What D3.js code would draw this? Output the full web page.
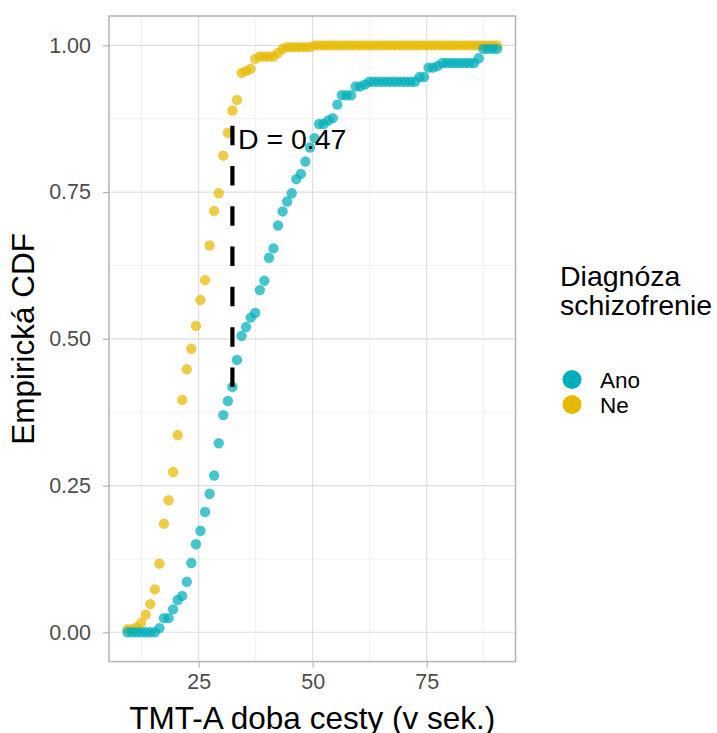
<!DOCTYPE html>
<html>
<head>
<meta charset="utf-8">
<script src="https://cdn.jsdelivr.net/npm/d3@7/dist/d3.min.js"></script>
<style>
    body { margin: 0; background: #ffffff; }
    text { font-family: "Liberation Sans", Arial, sans-serif; }
</style>
</head>
<body>
<div id="chart"></div>
<script>

// common grid of TMT-A times (sec.)
let xValues = [
    9.4, 10.4, 11.4, 12.4, 13.4, 14.4, 15.4, 16.4, 17.4, 18.4,
    19.4, 20.4, 21.4, 22.4, 23.4, 24.4, 25.4, 26.4, 27.4, 28.4,
    29.4, 30.4, 31.4, 32.4, 33.4, 34.4, 35.4, 36.4, 37.4, 38.4,
    39.4, 40.4, 41.4, 42.4, 43.4, 44.4, 45.4, 46.4, 47.4, 48.4,
    49.4, 50.4, 51.4, 52.4, 53.4, 54.4, 55.4, 56.4, 57.4, 58.4,
    59.4, 60.4, 61.4, 62.4, 63.4, 64.4, 65.4, 66.4, 67.4, 68.4,
    69.4, 70.4, 71.4, 72.4, 73.4, 74.4, 75.4, 76.4, 77.4, 78.4,
    79.4, 80.4, 81.4, 82.4, 83.4, 84.4, 85.4, 86.4, 87.4, 88.4,
    89.4, 90.4
];

// empirical cdf, schizophrenia = Ano
let anoCdf = [
    0, 0, 0, 0, 0, 0, 0, 0.007, 0.024, 0.024,
    0.039, 0.055, 0.062, 0.086, 0.118, 0.150, 0.173, 0.205, 0.236, 0.267,
    0.322, 0.370, 0.394, 0.418, 0.464, 0.505, 0.520, 0.536, 0.544, 0.583,
    0.599, 0.638, 0.654, 0.693, 0.717, 0.734, 0.748, 0.772, 0.781, 0.802,
    0.826, 0.842, 0.866, 0.866, 0.872, 0.876, 0.899, 0.915, 0.915, 0.915,
    0.930, 0.930, 0.933, 0.938, 0.938, 0.938, 0.938, 0.938, 0.938, 0.938,
    0.938, 0.938, 0.938, 0.938, 0.946, 0.946, 0.962, 0.962, 0.965, 0.970,
    0.970, 0.970, 0.970, 0.970, 0.970, 0.970, 0.970, 0.978, 0.994, 0.994,
    0.994, 0.994
];

// empirical cdf, schizophrenia = Ne
let neCdf = [
    0.005, 0.005, 0.008, 0.016, 0.030, 0.048, 0.073, 0.117, 0.185, 0.225,
    0.273, 0.336, 0.396, 0.448, 0.483, 0.522, 0.566, 0.600, 0.659, 0.718,
    0.748, 0.812, 0.851, 0.889, 0.907, 0.953, 0.956, 0.960, 0.977, 0.981,
    0.981, 0.981, 0.981, 0.987, 0.994, 0.997, 0.997, 0.997, 0.997, 0.997,
    0.997, 1, 1, 1, 1, 1, 1, 1, 1, 1,
    1, 1, 1, 1, 1, 1, 1, 1, 1, 1,
    1, 1, 1, 1, 1, 1, 1, 1, 1, 1,
    1, 1, 1, 1, 1, 1, 1, 1, 1, 1,
    1, 1
];

let groupNames = ["Ano", "Ne"];
let groupColors = ["#00AFBB", "#E7B800"];

let xTicks = [25, 50, 75];
let xMinorTicks = [12.5, 37.5, 62.5, 87.5];
let yTicks = [0, 0.25, 0.5, 0.75, 1];
let yTickLabels = ["0.00", "0.25", "0.50", "0.75", "1.00"];
let yMinorTicks = [0.125, 0.375, 0.625, 0.875];


class EcdfVis {

    constructor(parentElement) {
        this.parentElement = parentElement;
        this.initVis();
    }

    initVis() {
        let vis = this;

        vis.width = 717;
        vis.height = 733;
        vis.panel = {left: 109, right: 515.5, top: 16, bottom: 661.6};

        vis.svg = d3.select("#" + vis.parentElement).append("svg")
            .attr("width", vis.width)
            .attr("height", vis.height);

        // scales with ggplot style 5% padding
        let xExt = d3.extent(xValues);
        let xPad = (xExt[1] - xExt[0]) * 0.05;
        vis.x = d3.scaleLinear()
            .domain([xExt[0] - xPad, xExt[1] + xPad])
            .range([vis.panel.left, vis.panel.right]);

        vis.y = d3.scaleLinear()
            .domain([-0.05, 1.05])
            .range([vis.panel.bottom, vis.panel.top]);

        // grid
        let grid = vis.svg.append("g").attr("class", "grid");

        grid.selectAll(".x-minor").data(xMinorTicks).enter().append("line")
            .attr("x1", d => vis.x(d)).attr("x2", d => vis.x(d))
            .attr("y1", vis.panel.top).attr("y2", vis.panel.bottom)
            .attr("stroke", "#ebebeb").attr("stroke-width", 0.8);
        grid.selectAll(".y-minor").data(yMinorTicks).enter().append("line")
            .attr("x1", vis.panel.left).attr("x2", vis.panel.right)
            .attr("y1", d => vis.y(d)).attr("y2", d => vis.y(d))
            .attr("stroke", "#ebebeb").attr("stroke-width", 0.8);
        grid.selectAll(".x-major").data(xTicks).enter().append("line")
            .attr("x1", d => vis.x(d)).attr("x2", d => vis.x(d))
            .attr("y1", vis.panel.top).attr("y2", vis.panel.bottom)
            .attr("stroke", "#dedede").attr("stroke-width", 1.2);
        grid.selectAll(".y-major").data(yTicks).enter().append("line")
            .attr("x1", vis.panel.left).attr("x2", vis.panel.right)
            .attr("y1", d => vis.y(d)).attr("y2", d => vis.y(d))
            .attr("stroke", "#dedede").attr("stroke-width", 1.2);

        // axes
        let xAxis = d3.axisBottom(vis.x).tickValues(xTicks).tickSize(6).tickPadding(6);
        let yAxis = d3.axisLeft(vis.y).tickValues(yTicks).tickSize(6).tickPadding(12)
            .tickFormat((d, i) => yTickLabels[i]);

        vis.svg.append("g")
            .attr("transform", "translate(0," + vis.panel.bottom + ")")
            .call(xAxis)
            .call(g => g.select(".domain").remove())
            .call(g => g.selectAll("line").attr("stroke", "#b3b3b3").attr("stroke-width", 1.2))
            .call(g => g.selectAll("text")
                .attr("fill", "#4d4d4d")
                .style("font-size", "21.5px")
                .style("font-family", "'Liberation Sans', Arial, sans-serif"));

        vis.svg.append("g")
            .attr("transform", "translate(" + vis.panel.left + ",0)")
            .call(yAxis)
            .call(g => g.select(".domain").remove())
            .call(g => g.selectAll("line").attr("stroke", "#b3b3b3").attr("stroke-width", 1.2))
            .call(g => g.selectAll("text")
                .attr("fill", "#4d4d4d")
                .style("font-size", "21.5px")
                .style("font-family", "'Liberation Sans', Arial, sans-serif"));

        // panel border
        vis.svg.append("rect")
            .attr("x", vis.panel.left)
            .attr("y", vis.panel.top)
            .attr("width", vis.panel.right - vis.panel.left)
            .attr("height", vis.panel.bottom - vis.panel.top)
            .attr("fill", "none")
            .attr("stroke", "#b3b3b3")
            .attr("stroke-width", 1.5);

        // axis titles
        vis.svg.append("text")
            .attr("x", (vis.panel.left + vis.panel.right) / 2)
            .attr("y", 729)
            .attr("text-anchor", "middle")
            .style("font-size", "31.5px")
            .text("TMT-A doba cesty (v sek.)");

        vis.svg.append("text")
            .attr("transform", "translate(34," + (vis.panel.top + vis.panel.bottom) / 2 + ") rotate(-90)")
            .attr("text-anchor", "middle")
            .style("font-size", "31.5px")
            .text("Empirická CDF");

        vis.wrangleData();
    }

    wrangleData() {
        let vis = this;

        vis.series = [
            {name: "Ne", color: groupColors[1], values: xValues.map((x, i) => ({x: x, y: neCdf[i]}))},
            {name: "Ano", color: groupColors[0], values: xValues.map((x, i) => ({x: x, y: anoCdf[i]}))}
        ];

        // largest gap between the two curves (KS statistic)
        let diffs = xValues.map((x, i) => Math.abs(neCdf[i] - anoCdf[i]));
        vis.dIndex = d3.maxIndex(diffs);
        vis.dValue = diffs[vis.dIndex];

        vis.updateVis();
    }

    updateVis() {
        let vis = this;

        // points
        vis.series.forEach(s => {
            vis.svg.append("g")
                .selectAll("circle")
                .data(s.values)
                .enter()
                .append("circle")
                .attr("cx", d => vis.x(d.x))
                .attr("cy", d => vis.y(d.y))
                .attr("r", 5.2)
                .attr("fill", s.color)
                .attr("fill-opacity", 0.72);
        });

        // D line
        let dx = xValues[vis.dIndex];
        vis.svg.append("line")
            .attr("x1", vis.x(dx)).attr("x2", vis.x(dx))
            .attr("y1", vis.y(anoCdf[vis.dIndex]))
            .attr("y2", vis.y(neCdf[vis.dIndex]))
            .attr("stroke", "#000000")
            .attr("stroke-width", 4.2)
            .attr("stroke-dasharray", "19.5,20.8");

        vis.svg.append("text")
            .attr("x", vis.x(dx + 1.2))
            .attr("y", vis.y(0.84))
            .attr("dy", "0.35em")
            .style("font-size", "28.5px")
            .text("D = " + vis.dValue.toFixed(2));

        // legend
        let legend = vis.svg.append("g").attr("class", "legend");

        legend.append("text")
            .attr("x", 560)
            .attr("y", 286)
            .style("font-size", "28.5px")
            .text("Diagnóza");
        legend.append("text")
            .attr("x", 560)
            .attr("y", 315)
            .style("font-size", "28.5px")
            .text("schizofrenie");

        let keys = legend.selectAll(".key")
            .data(groupNames)
            .enter()
            .append("g")
            .attr("class", "key")
            .attr("transform", (d, i) => "translate(572," + (379.5 + i * 25) + ")");

        keys.append("circle")
            .attr("r", 9.5)
            .attr("fill", (d, i) => groupColors[i]);

        keys.append("text")
            .attr("x", 28)
            .attr("y", 8)
            .style("font-size", "22.5px")
            .text(d => d);
    }
}

let ecdfVis = new EcdfVis("chart");

</script>
</body>
</html>
